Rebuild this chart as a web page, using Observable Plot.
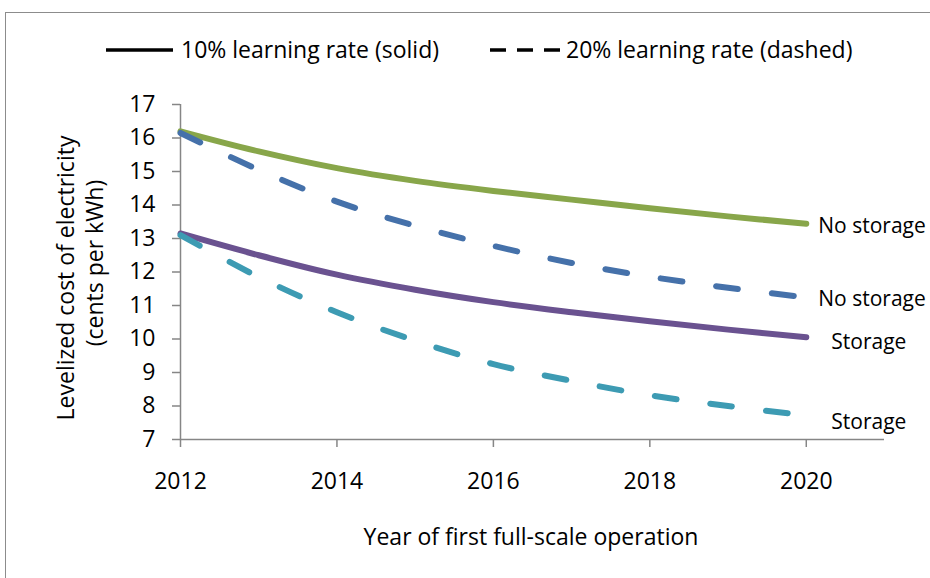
<!DOCTYPE html>
<html><head><meta charset="utf-8">
<script src="https://cdn.jsdelivr.net/npm/d3@7"></script>
<script src="https://cdn.jsdelivr.net/npm/@observablehq/plot@0.6"></script>
<style>
body{margin:0;background:#fff;}
#wrap{position:relative;width:930px;height:578px;overflow:hidden;font-family:"Open Sans",sans-serif;}
#frame{position:absolute;left:5px;top:12px;width:960px;height:620px;border-left:1.5px solid #8c8c8c;border-top:1.5px solid #8c8c8c;}
#wrap svg{position:absolute;left:0;top:0;}
</style></head><body>
<div id="wrap"><div id="frame"></div></div>
<script>
// ---- data ----
const years = [2012, 2013, 2014, 2015, 2016, 2017, 2018, 2019, 2020];
const noStorage10 = [16.2, 15.6, 15.1, 14.72, 14.42, 14.16, 13.9, 13.66, 13.44];
const noStorage20 = [16.15, 15.05, 14.1, 13.38, 12.78, 12.27, 11.86, 11.53, 11.24];
const storage10   = [13.15, 12.5, 11.92, 11.47, 11.1, 10.8, 10.53, 10.28, 10.05];
const storage20   = [13.1, 11.85, 10.8, 9.95, 9.25, 8.75, 8.32, 8.0, 7.72];
const seriesLabels = ["No storage", "No storage", "Storage", "Storage"];
const legendLabels = ["10% learning rate (solid)", "20% learning rate (dashed)"];
const xTicks = [2012, 2014, 2016, 2018, 2020];
const yTicks = [7, 8, 9, 10, 11, 12, 13, 14, 15, 16, 17];
const xTitle = "Year of first full-scale operation";
const yTitle = ["Levelized cost of electricity", "(cents per kWh)"];

// ---- styles ----
const FONT = "'Open Sans', sans-serif";
const FS = 23;
const LFS = 21;
const seriesStyle = [
  {values: noStorage10, color: "#88a64a", dash: null,    dx: 12, dy: 3},
  {values: noStorage20, color: "#4571aa", dash: "22,34", dx: 12, dy: 2},
  {values: storage10,   color: "#6a5290", dash: null,    dx: 25, dy: 5},
  {values: storage20,   color: "#3d9bb3", dash: "22,34", dx: 25, dy: 7}
];

const series = seriesStyle.map((s, i) => ({
  ...s, label: seriesLabels[i],
  rows: years.map((yr, j) => ({year: yr, value: s.values[j], label: seriesLabels[i]}))
}));

const axisColor = "#868686";

const chart = Plot.plot({
  width: 930, height: 578,
  marginLeft: 180, marginRight: 46, marginTop: 104, marginBottom: 139,
  style: {fontFamily: FONT, fontSize: FS + "px", color: "#000", background: "transparent", overflow: "visible"},
  x: {domain: [2012, 2021]},
  y: {domain: [7, 17]},
  marks: [
    Plot.axisY({ticks: yTicks, tickSize: 8, tickPadding: 17, stroke: axisColor, strokeWidth: 1.5, label: null, tickFormat: d => String(d), fontSize: FS}),
    Plot.axisX({ticks: xTicks, tickSize: 8, tickPadding: 25, stroke: axisColor, strokeWidth: 1.5, label: null, tickFormat: d => String(d), fontSize: FS}),
    Plot.ruleX([2012], {stroke: axisColor, strokeWidth: 1.5}),
    Plot.ruleY([7], {stroke: axisColor, strokeWidth: 1.5}),
    ...series.map(s => Plot.line(s.rows, {
      x: "year", y: "value", stroke: s.color, strokeWidth: 6,
      strokeDasharray: s.dash, strokeLinecap: "round", curve: "catmull-rom"
    })),
    ...series.map(s => Plot.text(s.rows.slice(-1), {
      x: "year", y: "value", text: "label", textAnchor: "start",
      dx: s.dx, dy: s.dy, fontSize: LFS, fill: "#000"
    }))
  ]
});
document.getElementById("wrap").appendChild(chart);

// ---- overlay: legend and titles ----
const ov = d3.select("#wrap").append("svg").attr("width", 930).attr("height", 578)
  .style("font-family", FONT).style("font-size", FS + "px");

// legend
const lg = ov.append("g");
lg.append("line").attr("x1", 106).attr("x2", 173).attr("y1", 50).attr("y2", 50)
  .attr("stroke", "#000").attr("stroke-width", 3.5);
lg.append("text").attr("x", 181).attr("y", 50).attr("dy", "0.35em").text(legendLabels[0]);
lg.append("line").attr("x1", 490).attr("x2", 560).attr("y1", 50).attr("y2", 50)
  .attr("stroke", "#000").attr("stroke-width", 3.5).attr("stroke-dasharray", "16,11");
lg.append("text").attr("x", 566).attr("y", 50).attr("dy", "0.35em").text(legendLabels[1]);

// x title
ov.append("text").attr("x", 531).attr("y", 537).attr("dy", "0.35em")
  .attr("text-anchor", "middle").text(xTitle);
// y title
const yCenters = [278, 263];
yTitle.forEach((t, i) => {
  ov.append("text").attr("transform", `translate(${66 + i * 29},${yCenters[i]}) rotate(-90)`)
    .attr("dy", "0.35em").attr("text-anchor", "middle").text(t);
});
</script>
</body></html>
